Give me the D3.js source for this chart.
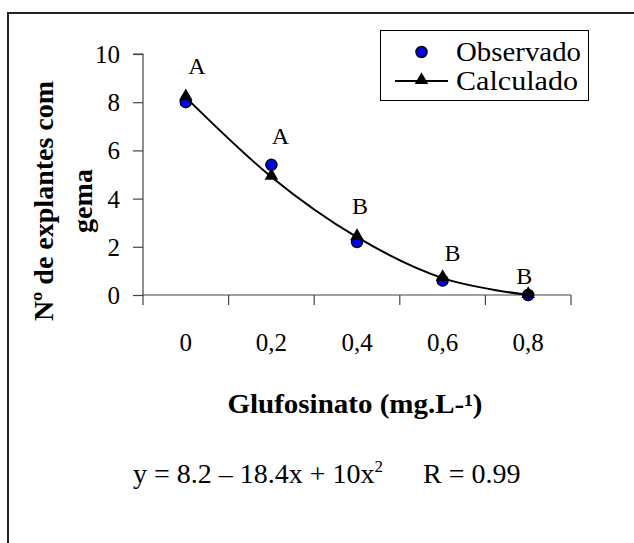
<!DOCTYPE html>
<html>
<head>
<meta charset="utf-8">
<script src="https://cdn.jsdelivr.net/npm/d3@7"></script>
<style>
  html, body { margin: 0; padding: 0; background: #fff; }
  svg { display: block; }
</style>
</head>
<body>
<script>
// Glufosinato doses (categorical x axis)
const doses = ["0", "0,2", "0,4", "0,6", "0,8"];
// Number of explants with bud: observed means
const observed = [8.0, 5.4, 2.2, 0.6, 0.0];
// Values from the fitted quadratic
const calculated = [8.2, 4.9, 2.4, 0.7, 0.0];
// Letters from the mean comparison test, and the height (in y units) where each sits
const letters = ["A", "A", "B", "B", "B"];
const letterLevels = [9.5, 6.6, 3.7, 1.75, 0.8];
// Y axis ticks
const yTicks = [0, 2, 4, 6, 8, 10];

const FONT = "'Liberation Serif', 'DejaVu Serif', 'Times New Roman', serif";
const W = 634, H = 543;
const svg = d3.select("body").append("svg").attr("width", W).attr("height", H)
  .attr("font-family", FONT);

// outer frame (runs past the right and bottom edges)
svg.append("rect")
  .attr("x", 8).attr("y", 13).attr("width", 640).attr("height", 550)
  .attr("fill", "none").attr("stroke", "#222").attr("stroke-width", 2);

const x = d3.scaleBand().domain(doses).range([143, 571]);
const y = d3.scaleLinear().domain([0, 10]).range([295, 54]);
const AX = "#444";

// y axis
const yAxis = svg.append("g").attr("transform", "translate(143,0)")
  .call(d3.axisLeft(y).tickValues(yTicks).tickSize(10).tickPadding(13));
yAxis.attr("font-family", FONT).attr("font-size", 25);
yAxis.select(".domain").attr("stroke", AX).attr("stroke-width", 1.2).attr("d", `M-10,${y(10)}H0V${y(0)}`);
yAxis.selectAll(".tick line").attr("stroke", AX).attr("stroke-width", 1.2);
yAxis.selectAll(".tick text").attr("dy", "0.34em");

// x axis: line with tick marks at category boundaries
const xg = svg.append("g").attr("transform", `translate(0,${y(0)})`);
xg.append("line").attr("x1", 143).attr("x2", 571).attr("y1", 0).attr("y2", 0)
  .attr("stroke", AX).attr("stroke-width", 1.2);
const bounds = doses.map(d => x(d)).concat([x(doses[doses.length - 1]) + x.bandwidth()]);
xg.selectAll("line.tk").data(bounds).join("line").attr("class", "tk")
  .attr("x1", d => d).attr("x2", d => d).attr("y1", 0).attr("y2", 10)
  .attr("stroke", AX).attr("stroke-width", 1.2);
xg.selectAll("text.lab").data(doses).join("text").attr("class", "lab")
  .attr("x", d => x(d) + x.bandwidth() / 2).attr("y", 56)
  .attr("text-anchor", "middle").attr("font-size", 25)
  .text(d => d);

const cx = i => x(doses[i]) + x.bandwidth() / 2;

// observed points
svg.selectAll("circle.obs").data(observed).join("circle").attr("class", "obs")
  .attr("cx", (d, i) => cx(i)).attr("cy", d => y(d)).attr("r", 5.5)
  .attr("fill", "#0000ff").attr("stroke", "#000").attr("stroke-width", 1.5);

// calculated curve
const line = d3.line().x((d, i) => cx(i)).y(d => y(d)).curve(d3.curveCatmullRom.alpha(0));
svg.append("path").datum(calculated).attr("d", line)
  .attr("fill", "none").attr("stroke", "#000").attr("stroke-width", 2);

const tri = d3.symbol().type(d3.symbolTriangle).size(80);
svg.selectAll("path.calc").data(calculated).join("path").attr("class", "calc")
  .attr("transform", (d, i) => `translate(${cx(i)},${y(d) - 1})`)
  .attr("d", tri).attr("fill", "#000");

// significance letters, nudged sideways a little like the original labels
const nudge = [11, 9, 3, 10, -4];
svg.selectAll("text.let").data(letters).join("text").attr("class", "let")
  .attr("x", (d, i) => cx(i) + nudge[i]).attr("y", (d, i) => y(letterLevels[i]))
  .attr("text-anchor", "middle").attr("dy", "0.35em").attr("font-size", 24)
  .text(d => d);

// legend
const lg = svg.append("g");
lg.append("rect").attr("x", 380.5).attr("y", 30.5).attr("width", 208).attr("height", 70)
  .attr("fill", "#fff").attr("stroke", "#000").attr("stroke-width", 1);
lg.append("circle").attr("cx", 421.5).attr("cy", 52).attr("r", 5.5)
  .attr("fill", "#0000ff").attr("stroke", "#000").attr("stroke-width", 1.5);
lg.append("text").attr("x", 456).attr("y", 52).attr("dy", "0.34em").attr("font-size", 27)
  .attr("textLength", 125).attr("lengthAdjust", "spacingAndGlyphs").text("Observado");
lg.append("line").attr("x1", 395).attr("x2", 448).attr("y1", 81).attr("y2", 81)
  .attr("stroke", "#000").attr("stroke-width", 2);
lg.append("path").attr("transform", "translate(421.5,80)").attr("d", tri).attr("fill", "#000");
lg.append("text").attr("x", 456).attr("y", 81).attr("dy", "0.34em").attr("font-size", 27)
  .attr("textLength", 122).attr("lengthAdjust", "spacingAndGlyphs").text("Calculado");

// y axis title (two lines)
const yt = svg.append("text").attr("transform", "translate(53,201) rotate(-90)")
  .attr("text-anchor", "middle").attr("font-size", 28).attr("font-weight", "bold");
yt.append("tspan").attr("x", 0).attr("y", 0).text("Nº de explantes com");
yt.append("tspan").attr("x", 0).attr("y", 39).text("gema");

// x axis title
svg.append("text").attr("x", 355).attr("y", 413)
  .attr("text-anchor", "middle").attr("font-size", 27).attr("font-weight", "bold")
  .attr("textLength", 255).attr("lengthAdjust", "spacingAndGlyphs")
  .text("Glufosinato (mg.L-¹)");

// fitted equation
const eq = svg.append("text").attr("x", 133).attr("y", 483).attr("font-size", 28);
eq.append("tspan").text("y = 8.2 – 18.4x + 10x");
eq.append("tspan").attr("dy", -11).attr("font-size", 17).text("2");
svg.append("text").attr("x", 423).attr("y", 483).attr("font-size", 28).text("R = 0.99");
</script>
</body>
</html>
